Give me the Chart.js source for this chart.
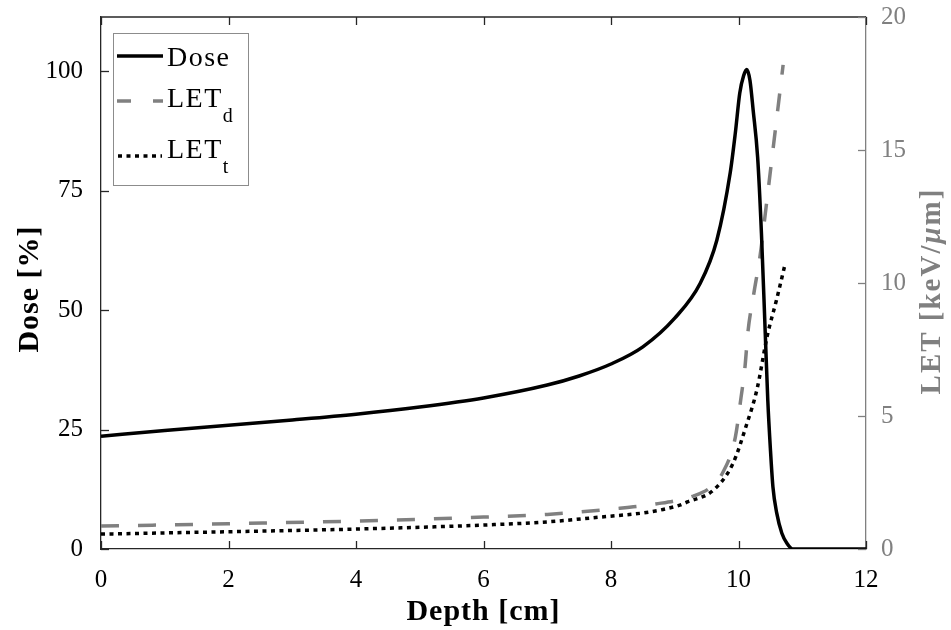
<!DOCTYPE html>
<html>
<head>
<meta charset="utf-8">
<script src="https://cdn.jsdelivr.net/npm/chart.js@4.4.1/dist/chart.umd.min.js"></script>
<style>
  html, body { margin: 0; padding: 0; background: #fff; }
</style>
</head>
<body>
<canvas id="chart" width="951" height="630"></canvas>
<script>
// values
const doseDepth = [0, 1, 2, 3, 4, 5, 6, 7, 7.5, 8, 8.5, 9, 9.4, 9.66, 9.87, 9.95, 10.02, 10.08, 10.13, 10.18, 10.23, 10.3, 10.36, 10.42, 10.46, 10.5, 10.54, 10.6, 10.68, 10.76, 10.85, 12];
const doseValues = [23.6, 24.8, 25.9, 27.0, 28.2, 29.7, 31.6, 34.3, 36.2, 38.7, 42.3, 48.3, 55.6, 64.6, 78.7, 87, 95.4, 99, 100.3, 98, 91.8, 82, 66, 45, 31, 21, 13, 7.5, 3.3, 1.2, 0, 0];

const letdDepth = [0, 2, 4, 6, 7, 8, 8.7, 9.3, 9.55, 9.75, 9.95, 10.04, 10.1, 10.15, 10.24, 10.34, 10.42, 10.55, 10.7];
const letdValues = [0.86, 0.95, 1.05, 1.2, 1.3, 1.5, 1.69, 2.0, 2.3, 2.86, 4.2, 5.7, 6.8, 8.2, 9.6, 11.05, 12.6, 15.2, 18.2];

const lettDepth = [0, 2, 4, 6, 7, 7.83, 8.6, 9.08, 9.2, 9.6, 9.91, 10.13, 10.29, 10.45, 10.6, 10.73];
const lettValues = [0.56, 0.65, 0.75, 0.9, 1.02, 1.2, 1.39, 1.65, 1.77, 2.2, 3.2, 4.7, 6.0, 8.0, 9.4, 10.7];

const depthTicks = [0, 2, 4, 6, 8, 10, 12];
const doseTicks = [0, 25, 50, 75, 100];
const letTicks = [0, 5, 10, 15, 20];

const FONT = "'Liberation Serif', 'Times New Roman', serif";
const GRAY = '#808080';
const TICK = 8;

function pairs(xs, ys) {
  return xs.map((x, i) => ({ x: x, y: ys[i] }));
}

function line(ctx, x1, y1, x2, y2) {
  ctx.beginPath();
  ctx.moveTo(x1, y1);
  ctx.lineTo(x2, y2);
  ctx.stroke();
}

function fixY(width) {
  return s => {
    s.width = width;
    s.paddingTop = 0;
    s.paddingBottom = 0;
  };
}

// inward ticks, top border, axis titles and the legend
const framePlugin = {
  id: 'frame',
  afterDraw(chart) {
    const ctx = chart.ctx;
    const a = chart.chartArea;
    const sx = chart.scales.x, sy = chart.scales.y, sy2 = chart.scales.y2;
    ctx.save();
    ctx.lineWidth = 1.3;
    ctx.strokeStyle = '#262626';
    line(ctx, a.left, a.top, a.right, a.top);
    depthTicks.forEach(v => {
      const px = Math.round(sx.getPixelForValue(v)) + 0.5;
      line(ctx, px, a.bottom, px, a.bottom - TICK);
      line(ctx, px, a.top, px, a.top + TICK);
    });
    doseTicks.forEach(v => {
      const py = Math.round(sy.getPixelForValue(v)) + 0.5;
      line(ctx, a.left, py, a.left + TICK, py);
    });
    ctx.strokeStyle = GRAY;
    letTicks.forEach(v => {
      const py = Math.round(sy2.getPixelForValue(v)) + 0.5;
      line(ctx, a.right, py, a.right - TICK, py);
    });

    // axis titles
    ctx.textAlign = 'center';
    ctx.textBaseline = 'middle';
    ctx.fillStyle = '#000';
    ctx.font = 'bold 30px ' + FONT;
    ctx.letterSpacing = '1px';
    ctx.fillText('Depth [cm]', (a.left + a.right) / 2, 612);

    ctx.save();
    ctx.translate(30, 289);
    ctx.rotate(-Math.PI / 2);
    ctx.fillText('Dose [%]', 0, 0);
    ctx.restore();

    // LET [keV/μm] with italic mu
    ctx.save();
    ctx.translate(933, 291);
    ctx.rotate(-Math.PI / 2);
    ctx.fillStyle = GRAY;
    ctx.textAlign = 'left';
    ctx.letterSpacing = '2px';
    const parts = [
      ['LET [keV/', 'bold 29px ' + FONT],
      ['\u03bc', 'italic bold 29px ' + FONT],
      ['m]', 'bold 29px ' + FONT]
    ];
    let total = 0;
    parts.forEach(p => { ctx.font = p[1]; total += ctx.measureText(p[0]).width; });
    let x = -total / 2;
    parts.forEach(p => {
      ctx.font = p[1];
      ctx.fillText(p[0], x, 0);
      x += ctx.measureText(p[0]).width;
    });
    ctx.restore();
    ctx.letterSpacing = '0px';

    // legend
    ctx.fillStyle = '#fff';
    ctx.fillRect(113, 33, 135, 152);
    ctx.strokeStyle = '#8c8c8c';
    ctx.lineWidth = 1;
    ctx.strokeRect(113.5, 33.5, 135, 152);

    ctx.lineWidth = 3.5;
    ctx.lineCap = 'butt';
    ctx.strokeStyle = '#000';
    ctx.setLineDash([]);
    line(ctx, 117, 56, 163, 56);
    ctx.strokeStyle = GRAY;
    ctx.setLineDash([14, 22]);
    line(ctx, 117, 101, 163, 101);
    ctx.strokeStyle = '#000';
    ctx.setLineDash([4, 4.5]);
    line(ctx, 118, 156, 162, 156);
    ctx.setLineDash([]);

    ctx.fillStyle = '#000';
    ctx.textAlign = 'left';
    ctx.textBaseline = 'alphabetic';
    ctx.font = '28px ' + FONT;
    ctx.letterSpacing = '1.5px';
    ctx.fillText('Dose', 167, 66);
    ctx.fillText('LET', 167, 107);
    ctx.fillText('LET', 167, 158);
    const letW = ctx.measureText('LET').width;
    ctx.font = '20px ' + FONT;
    ctx.fillText('d', 167 + letW, 122);
    ctx.fillText('t', 167 + letW, 173);
    ctx.restore();
  }
};

new Chart(document.getElementById('chart').getContext('2d'), {
  type: 'line',
  data: {
    datasets: [
      {
        label: 'Dose',
        data: pairs(doseDepth, doseValues),
        yAxisID: 'y',
        borderColor: '#000',
        borderWidth: 3.5,
        cubicInterpolationMode: 'monotone'
      },
      {
        label: 'LETd',
        data: pairs(letdDepth, letdValues),
        yAxisID: 'y2',
        borderColor: GRAY,
        borderWidth: 3.5,
        borderDash: [18, 19],
        borderCapStyle: 'butt',
        cubicInterpolationMode: 'monotone'
      },
      {
        label: 'LETt',
        data: pairs(lettDepth, lettValues),
        yAxisID: 'y2',
        borderColor: '#000',
        borderWidth: 3.5,
        borderDash: [4, 4.5],
        borderCapStyle: 'butt',
        cubicInterpolationMode: 'monotone'
      }
    ]
  },
  options: {
    responsive: false,
    animation: false,
    devicePixelRatio: 1,
    elements: { point: { radius: 0 } },
    layout: { padding: { top: 17, left: 0, right: 0, bottom: 0 } },
    plugins: {
      legend: { display: false },
      tooltip: { enabled: false }
    },
    scales: {
      x: {
        type: 'linear',
        min: 0,
        max: 12,
        afterFit: s => { s.height = 81; s.paddingLeft = 0; s.paddingRight = 0; },
        afterBuildTicks: s => { s.ticks = depthTicks.map(v => ({ value: v })); },
        grid: { display: false },
        border: { display: true, color: '#262626', width: 1.3 },
        ticks: { color: '#000', padding: 8, font: { family: FONT, size: 25 }, maxRotation: 0 }
      },
      y: {
        position: 'left',
        min: 0,
        max: 111.3,
        afterFit: fixY(101),
        afterBuildTicks: s => { s.ticks = doseTicks.map(v => ({ value: v })); },
        grid: { display: false },
        border: { display: true, color: '#262626', width: 1.3 },
        ticks: { color: '#000', padding: 10, font: { family: FONT, size: 25 } }
      },
      y2: {
        position: 'right',
        min: 0,
        max: 20,
        afterFit: fixY(85),
        afterBuildTicks: s => { s.ticks = letTicks.map(v => ({ value: v })); },
        grid: { display: false },
        border: { display: true, color: GRAY, width: 1.3 },
        ticks: { color: GRAY, padding: 7, font: { family: FONT, size: 25 } }
      }
    }
  },
  plugins: [framePlugin]
});
</script>
</body>
</html>
